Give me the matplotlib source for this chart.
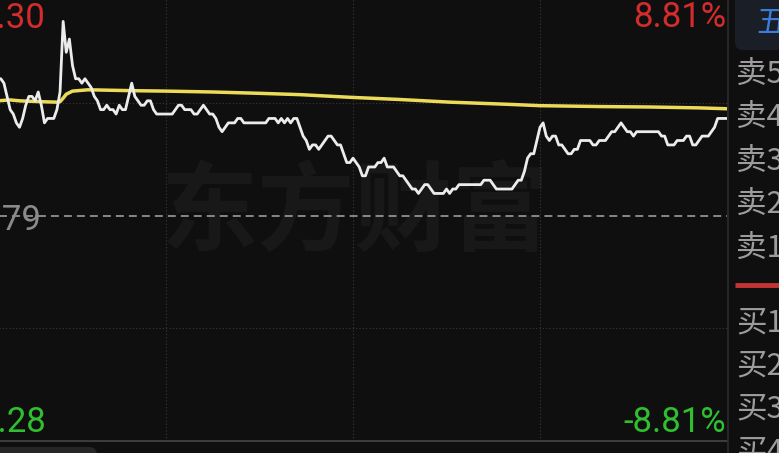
import matplotlib
matplotlib.use('Agg')
import matplotlib.pyplot as plt
from matplotlib.patches import FancyBboxPatch
from matplotlib.transforms import IdentityTransform

W, H = 779, 453

# ---- 数据 ----
prev_close = 5.79
limit_pct = 8.81
price_labels = ['6.30', '5.79', '5.28']
pct_labels = ['8.81%', '-8.81%']

# 分时价格（每分钟一个点，前几分钟被截掉）
start_minute = 6
prices = [
    6.10, 6.10, 6.09, 6.06, 6.03, 6.02, 6.00, 5.99, 6.01, 6.04,   # 6
    6.06, 6.06, 6.05, 6.07, 6.04, 6.00, 6.01, 6.01, 6.01, 6.03,   # 16
    6.07, 6.23, 6.16, 6.19, 6.13, 6.10, 6.10, 6.09, 6.10, 6.09,   # 26
    6.08, 6.06, 6.05, 6.03, 6.03, 6.04, 6.03, 6.03, 6.02, 6.04,   # 36
    6.03, 6.03, 6.06, 6.09, 6.06, 6.05, 6.04, 6.04, 6.05, 6.05,   # 46
    6.03, 6.02, 6.02, 6.02, 6.02, 6.02, 6.02, 6.03, 6.04, 6.04,   # 56
    6.03, 6.03, 6.03, 6.02, 6.02, 6.03, 6.04, 6.03, 6.02, 6.02,   # 66
    6.01, 5.99, 5.98, 5.99, 6.00, 6.00, 6.00, 6.01, 6.01, 6.00,   # 76
    6.00, 6.00, 6.00, 6.00, 6.00, 6.00, 6.00, 6.01, 6.01, 6.01,   # 86
    6.00, 6.01, 6.00, 6.01, 6.00, 6.01, 6.01, 5.99, 5.97, 5.96,   # 96
    5.94, 5.95, 5.95, 5.94, 5.95, 5.96, 5.97, 5.97, 5.96, 5.95,   # 106
    5.95, 5.93, 5.91, 5.91, 5.92, 5.91, 5.90, 5.88, 5.88, 5.90,   # 116
    5.90, 5.90, 5.91, 5.91, 5.92, 5.90, 5.90, 5.90, 5.89, 5.88,   # 126
    5.88, 5.87, 5.86, 5.85, 5.85, 5.84, 5.85, 5.86, 5.86, 5.85,   # 136
    5.84, 5.84, 5.84, 5.84, 5.85, 5.84, 5.85, 5.85, 5.86, 5.86,   # 146
    5.86, 5.86, 5.86, 5.86, 5.86, 5.86, 5.87, 5.87, 5.87, 5.86,   # 156
    5.85, 5.85, 5.85, 5.85, 5.85, 5.85, 5.86, 5.87, 5.87, 5.89,   # 166
    5.92, 5.93, 5.93, 5.96, 5.99, 6.00, 5.97, 5.96, 5.97, 5.97,   # 176
    5.95, 5.95, 5.94, 5.93, 5.93, 5.94, 5.94, 5.96, 5.96, 5.96,   # 186
    5.96, 5.95, 5.95, 5.96, 5.96, 5.96, 5.97, 5.98, 5.98, 5.99,   # 196
    6.00, 5.99, 5.98, 5.98, 5.97, 5.98, 5.98, 5.98, 5.98, 5.98,   # 206
    5.98, 5.98, 5.98, 5.97, 5.97, 5.95, 5.95, 5.95, 5.96, 5.96,   # 216
    5.96, 5.97, 5.97, 5.95, 5.95, 5.96, 5.97, 5.97, 5.97, 5.98,   # 226
    5.99, 6.01, 6.01, 6.01, 6.01,                                 # 236
]
minutes = list(range(start_minute, start_minute + len(prices)))

# 均价线
avg_minutes = [6, 10, 13, 20, 25, 26, 27, 28, 30, 35, 49, 60, 75, 90,
               103, 119, 135, 151, 170, 180, 199, 215, 231, 240]
avg_prices = [6.050, 6.052, 6.050, 6.048, 6.047, 6.048, 6.056, 6.065,
              6.072, 6.075, 6.073, 6.072, 6.070, 6.067, 6.064, 6.058,
              6.053, 6.047, 6.042, 6.039, 6.037, 6.036, 6.034, 6.032]

ask_labels = ['卖5', '卖4', '卖3', '卖2', '卖1']
bid_labels = ['买1', '买2', '买3', '买4']
tab_label = '五档'
watermark = '东方财富'

# ---- 样式 ----
BG = '#0f0f0f'
RED = '#d42c2c'
GREEN = '#2fbf2f'
NUM_FONT = ['Roboto', 'DejaVu Sans']
CJK_FONT = ['Noto Sans CJK SC', 'DejaVu Sans']


def fx(px):
    return px / W


def fy(py):
    return 1 - py / H


fig = plt.figure(figsize=(W / 100, H / 100), dpi=100, facecolor=BG)

# 主图：240 分钟，左侧被裁掉一部分
left, right, top, bottom = -21, 727, -9.5, 440.5
ax = fig.add_axes([fx(left), fy(bottom), (right - left) / W, (bottom - top) / H])
ax.set_facecolor(BG)
lo = prev_close * (1 - limit_pct / 100)
hi = prev_close * (1 + limit_pct / 100)
ax.set_xlim(0, 240)
ax.set_ylim(lo, hi)

ax.set_xticks([60, 120, 180])
ax.set_yticks([prev_close * (1 + limit_pct / 200), prev_close * (1 - limit_pct / 200)])
ax.grid(color='#3a3a3a', linestyle=(0, (1, 2)), linewidth=0.8)
ax.tick_params(length=0, labelleft=False, labelbottom=False)
for s in ['top', 'left', 'right']:
    ax.spines[s].set_visible(False)
ax.spines['bottom'].set_color('#3c3c3c')
ax.spines['bottom'].set_linewidth(1.5)

# 水印
ax.text(0.503, 0.50, watermark, transform=ax.transAxes, fontsize=70,
        color='#181818', fontweight='bold', family=CJK_FONT,
        ha='center', va='center', zorder=1)

ax.axhline(prev_close, color='#a8a8a8', lw=1.1, dashes=(5.2, 3.3), zorder=2)
ax.plot(avg_minutes, avg_prices, color='#ebdb58', lw=2.5, zorder=3)
ax.plot(minutes, prices, color='#ececec', lw=2.0, zorder=4,
        solid_joinstyle='round')

# 价格 / 涨跌幅标签
fig.text(fx(46), fy(28), price_labels[0], color=RED, fontsize=25,
         family=NUM_FONT, ha='right', va='baseline')
fig.text(fx(41), fy(230), price_labels[1], color='#8a8a8a', fontsize=25,
         family=NUM_FONT, ha='right', va='baseline')
fig.text(fx(46), fy(432), price_labels[2], color=GREEN, fontsize=25,
         family=NUM_FONT, ha='right', va='baseline')
fig.text(fx(726), fy(27), pct_labels[0], color=RED, fontsize=25,
         family=NUM_FONT, ha='right', va='baseline')
fig.text(fx(726), fy(432), pct_labels[1], color=GREEN, fontsize=25,
         family=NUM_FONT, ha='right', va='baseline')

# 右侧五档盘口
pax = fig.add_axes([fx(728), 0, (W - 728) / W, 1])
pax.set_facecolor(BG)
pax.set_xlim(728, W)
pax.set_ylim(H, 0)
pax.set_xticks([])
pax.set_yticks([])
for s in ['top', 'bottom', 'right']:
    pax.spines[s].set_visible(False)
pax.spines['left'].set_color('#2c2c2c')
pax.spines['left'].set_linewidth(1.2)

pax.add_patch(FancyBboxPatch((735, -20), 70, 70,
                             boxstyle='round,pad=0,rounding_size=8',
                             fc='#1a1e26', ec='none'))
pax.text(756, 23, tab_label, color='#3b7ddb', fontsize=22, family=CJK_FONT,
         ha='left', va='center')

for i, lab in enumerate(ask_labels):
    pax.text(736, 74 + i * 43.5, lab, color='#9c9c9c', fontsize=22,
             family=CJK_FONT, ha='left', va='center')
pax.plot([735, W + 5], [285, 285], color='#c43434', lw=3.5,
         solid_capstyle='butt')
for i, lab in enumerate(bid_labels):
    pax.text(736, 323 + i * 43, lab, color='#9c9c9c', fontsize=22,
             family=CJK_FONT, ha='left', va='center')

# 左下角按钮（被裁掉）
fig.add_artist(FancyBboxPatch((-10, -17), 107, 23,
                              boxstyle='round,pad=0,rounding_size=8',
                              transform=IdentityTransform(),
                              fc='#262626', ec='none'))

fig.savefig('out.png', dpi=100, facecolor=BG)
